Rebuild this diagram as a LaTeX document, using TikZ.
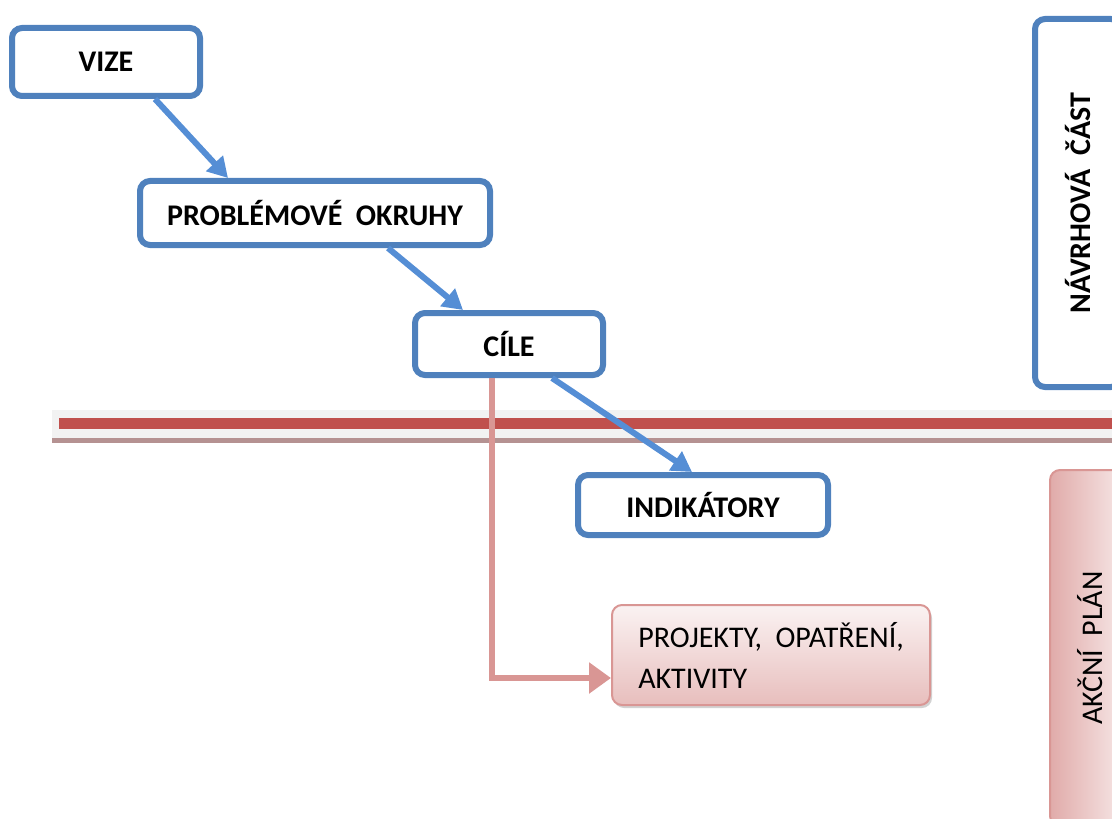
\documentclass[tikz,border=0pt]{standalone}
\usepackage{graphicx}
\usepackage{fontspec}
\setmainfont{Carlito}
\usetikzlibrary{arrows.meta}
\usetikzlibrary{shadows}

\definecolor{boxBlue}{HTML}{4F81BD}
\definecolor{arrowBlue}{HTML}{558ED5}
\definecolor{planPink}{HTML}{D99694}
\definecolor{barRed}{HTML}{C0504D}
\definecolor{barShadow}{HTML}{B59292}

\begin{document}
\begin{tikzpicture}[x = 0.5pt, y = -0.5pt, font=\fontsize{15}{20.5}\selectfont]
	\tikzstyle{blueBoxStyle}=[shape = rectangle, rounded corners = 5pt, draw = boxBlue, line width = 3pt, fill = white, inner sep = 0pt, font = \fontsize{15}{20.5}\selectfont\bfseries]
	\tikzstyle{pinkBoxStyle}=[shape = rectangle, rounded corners = 5pt, draw = planPink, line width = 1pt, inner sep = 0pt]
	\tikzstyle{blueArrowStyle}=[draw = arrowBlue, line width = 3pt, -{Triangle[length = 10pt, width = 11pt]}]
	\tikzstyle{pinkArrowStyle}=[draw = planPink, line width = 3pt, -{Triangle[length = 11pt, width = 15pt]}]
	\useasboundingbox (0,0) rectangle (1112,818);
	% dividing bar
	\fill[gray!10] (52,410) rectangle (1112,438);
	\fill[barShadow] (52,438) rectangle (1112,443);
	\fill[barRed] (59,418) rectangle (1112,429);
	% boxes
	\node[blueBoxStyle, minimum width = 94pt, minimum height = 34pt] (vize) at (106,62) {VIZE};
	\node[blueBoxStyle, minimum width = 175pt, minimum height = 32pt] (okruhy) at (315,213) {PROBLÉMOVÉ\ \ OKRUHY};
	\node[blueBoxStyle, minimum width = 94pt, minimum height = 31pt] (cile) at (509,344) {CÍLE};
	\node[blueBoxStyle, minimum width = 125pt, minimum height = 30pt] (indikatory) at (703,505) {INDIKÁTORY};
	\node[blueBoxStyle, minimum width = 43pt, minimum height = 184pt] (navrh) at (1078,203) {\rotatebox{90}{NÁVRHOVÁ\ \ ČÁST}};
	\node[pinkBoxStyle, left color = planPink!80!white, right color = planPink!18!white, minimum width = 40pt, minimum height = 178pt] (akcni) at (1090,648) {\rotatebox{90}{AKČNÍ\ \ PLÁN}};
	\node[pinkBoxStyle, top color = planPink!12!white, bottom color = planPink!62!white, drop shadow = {shadow xshift = 1pt, shadow yshift = -1.5pt, fill = gray!70}, minimum width = 159pt, minimum height = 50pt, align = left] (projekty) at (771,655) {PROJEKTY,\ \ OPATŘENÍ,\\AKTIVITY};
	% connectors
	\draw[blueArrowStyle] ([xshift = -24pt]vize.south east) -- ([xshift = 45.5pt]okruhy.north west);
	\draw[blueArrowStyle] ([xshift = -52.5pt]okruhy.south east) -- ([xshift = 25.5pt]cile.north west);
	\draw[blueArrowStyle] ([xshift = -27pt]cile.south east) -- ([xshift = 58.5pt]indikatory.north west);
	\draw[pinkArrowStyle] ([xshift = 40pt]cile.south west) |- ([yshift = -11.5pt]projekty.west);
\end{tikzpicture}
\end{document}
